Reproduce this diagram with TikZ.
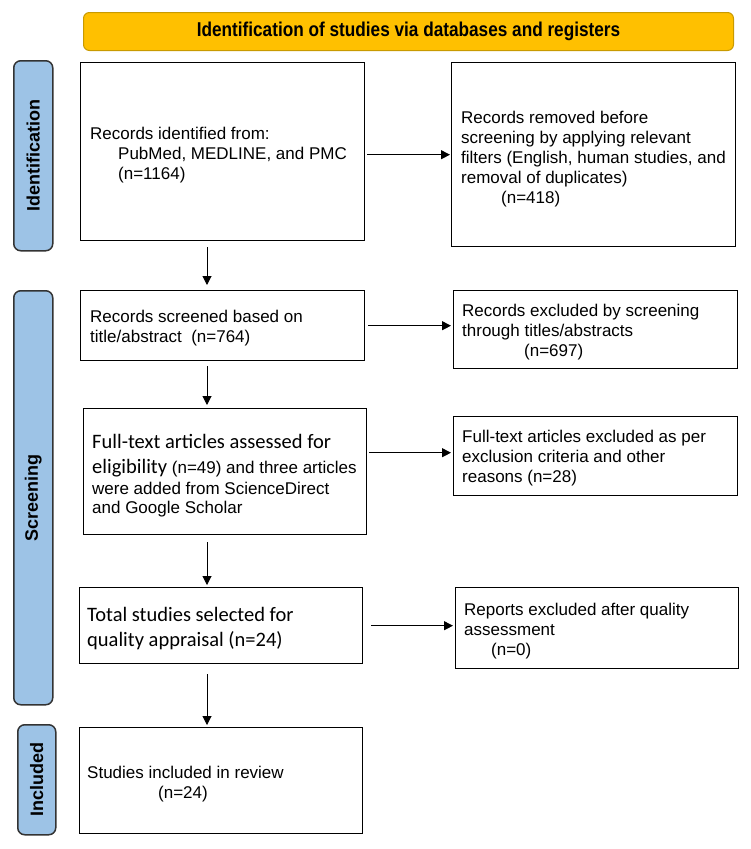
\documentclass[tikz,border=0pt]{standalone}
\usepackage{fontspec}
\setmainfont{Liberation Sans}
\newfontfamily\calib{Carlito}
\newfontfamily\banf[FakeStretch=0.86]{Liberation Sans}
\usetikzlibrary{arrows.meta}
\definecolor{bannerfill}{HTML}{FFC000}
\definecolor{bannerline}{HTML}{C99A00}
\definecolor{sidefill}{HTML}{9DC3E6}
\definecolor{sideline}{HTML}{333333}
\tikzset{
  box/.style={draw=black, line width=1.4pt, anchor=north west, inner sep=0pt, fill=white},
  txt/.style={inner sep=0pt, align=left, anchor=west, font=\fontsize{17}{20}\selectfont},
  ctxt/.style={inner sep=0pt, align=left, anchor=west, font=\calib\fontsize{20.5}{25}\selectfont},
  side/.style={draw=sideline, fill=sidefill, line width=1.5pt, rounded corners=7pt, anchor=north west, inner sep=0pt},
  sidetxt/.style={rotate=90, inner sep=0pt, font=\bfseries\fontsize{18}{21}\selectfont},
  arr/.style={draw=black, line width=1pt, -{Triangle[length=9pt,width=9pt]}}
}
\begin{document}
\begin{tikzpicture}[x=1pt,y=-1pt]
\useasboundingbox (0,0) rectangle (750,849);
% banner
\node[draw=bannerline, fill=bannerfill, line width=1pt, rounded corners=6pt, anchor=north west,
      minimum width=650pt, minimum height=38pt, inner sep=0pt] (ban) at (83,12) {};
\node[inner sep=0pt, font=\banf\bfseries\fontsize{20}{24}\selectfont] (bant) at (ban.center) {Identification of studies via databases and registers};
% side labels
\node[side, minimum width=39pt, minimum height=190pt] (s1) at (13,60) {};
\node[sidetxt] (s1t) at (s1.center) {Identification};
\node[side, minimum width=39pt, minimum height=414pt] (s2) at (13,290) {};
\node[sidetxt] (s2t) at (s2.center) {Screening};
\node[side, minimum width=38pt, minimum height=110pt] (s3) at (17,724) {};
\node[sidetxt] (s3t) at (s3.center) {Included};
% boxes
\node[box, minimum width=284pt, minimum height=178pt] (b1) at (80,62) {};
\node[box, minimum width=284pt, minimum height=184pt] (b2) at (451,62) {};
\node[box, minimum width=284pt, minimum height=70pt] (b3) at (80,290) {};
\node[box, minimum width=284pt, minimum height=78pt] (b4) at (453,290) {};
\node[box, minimum width=283pt, minimum height=126pt] (b5) at (83,408) {};
\node[box, minimum width=284pt, minimum height=79pt] (b6) at (453,416) {};
\node[box, minimum width=283pt, minimum height=76pt] (b7) at (79,587) {};
\node[box, minimum width=283pt, minimum height=81pt] (b8) at (455,587) {};
\node[box, minimum width=283pt, minimum height=106pt] (b9) at (79,727) {};
% texts
\node[txt] (t1) at (90,155) {Records identified from:\\\hspace*{28pt}PubMed, MEDLINE, and PMC\\\hspace*{28pt}(n=1164)};
\node[txt] (t2) at (461,159) {Records removed before\\screening by applying relevant\\filters (English, human studies, and\\removal of duplicates)\\\hspace*{40pt}(n=418)};
\node[txt] (t3) at (90,328.5) {Records screened based on\\title/abstract\ \ (n=764)};
\node[txt] (t4) at (462,332) {Records excluded by screening\\through titles/abstracts\\\hspace*{62pt}(n=697)};
\node[txt, font=\fontsize{17}{21}\selectfont] (t5) at (92,476) {{\calib\fontsize{20.5}{25}\selectfont Full-text articles assessed for}\\[4pt]{\calib\fontsize{20.5}{25}\selectfont eligibility} (n=49) and three articles\\were added from ScienceDirect\\[-2pt]and Google Scholar};
\node[txt] (t6) at (462,458) {Full-text articles excluded as per\\exclusion criteria and other\\reasons (n=28)};
\node[ctxt] (t7) at (87,629) {Total studies selected for\\quality appraisal (n=24)};
\node[txt] (t8) at (464,631) {Reports excluded after quality\\assessment\\\hspace*{27pt}(n=0)};
\node[txt] (t9) at (87,784) {Studies included in review\\\hspace*{71pt}(n=24)};
% arrows
\coordinate (ax) at (207,0);
\draw[arr, shorten <=6pt, shorten >=5pt] (b1.south -| ax) -- (b3.north -| ax);
\draw[arr, shorten <=5pt, shorten >=3pt] (b3.south -| ax) -- (b5.north -| ax);
\draw[arr, shorten <=7pt, shorten >=2pt] (b5.south -| ax) -- (b7.north -| ax);
\draw[arr, shorten <=10pt, shorten >=2pt] (b7.south -| ax) -- (b9.north -| ax);
\draw[arr, shorten <=2pt, shorten >=1pt] (b1.east |- b2.west) -- (b2.west);
\draw[arr, shorten <=3pt, shorten >=2pt] (b3.east) -- (b3.east -| b4.west);
\coordinate (h3) at ([yshift=3.5pt]b6.west);
\draw[arr, shorten <=2pt, shorten >=2pt] (b5.east |- h3) -- (h3);
\draw[arr, shorten <=8pt, shorten >=2pt] (b7.east) -- (b7.east -| b8.west);
\end{tikzpicture}
\end{document}
